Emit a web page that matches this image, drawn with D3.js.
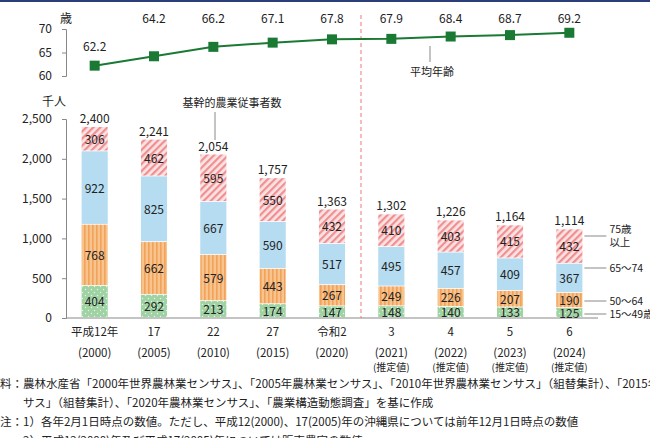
<!DOCTYPE html><html><head><meta charset="utf-8"><script src="https://cdn.jsdelivr.net/npm/d3@7"></script>
<style>body{margin:0;background:#fff}text{font-family:"Noto Sans CJK JP","Noto Sans",sans-serif;fill:#222}</style></head><body><svg id="c" width="650" height="438"></svg><script>
const years=["平成12年|(2000)","17|(2005)","22|(2010)","27|(2015)","令和2|(2020)","3|(2021)|(推定値)","4|(2022)|(推定値)","5|(2023)|(推定値)","6|(2024)|(推定値)"];
const totals=[2400,2241,2054,1757,1363,1302,1226,1164,1114];
const age15_49=[404,292,213,174,147,148,140,133,125];
const age50_64=[768,662,579,443,267,249,226,207,190];
const age65_74=[922,825,667,590,517,495,457,409,367];
const age75=[306,462,595,550,432,410,403,415,432];
const avgAge=[62.2,64.2,66.2,67.1,67.8,67.9,68.4,68.7,69.2];
const seriesNames=["15〜49歳","50〜64","65〜74","75歳|以上"];
const yTicks=[0,500,1000,1500,2000,2500];
const ageTicks=[60,65,70];
const notes=["料：農林水産省「2000年世界農林業センサス」、「2005年農林業センサス」、「2010年世界農林業センサス」（組替集計）、「2015年農林業センサス",
"　　サス」（組替集計）、「2020年農林業センサス」、「農業構造動態調査」を基に作成",
"注：1）各年2月1日時点の数値。ただし、平成12(2000)、17(2005)年の沖縄県については前年12月1日時点の数値",
"　　2）平成12(2000)年及び平成17(2005)年については販売農家の数値"];
const svg=d3.select("#c");
const defs=svg.append("defs");
let p=defs.append("pattern").attr("id","p75").attr("width",5).attr("height",5).attr("patternUnits","userSpaceOnUse").attr("patternTransform","rotate(45)");
p.append("rect").attr("width",5).attr("height",5).attr("fill","#fbe3e3");p.append("rect").attr("width",2.2).attr("height",5).attr("fill","#ef8f92");
p=defs.append("pattern").attr("id","p50").attr("width",4).attr("height",4).attr("patternUnits","userSpaceOnUse");
p.append("rect").attr("width",4).attr("height",4).attr("fill","#f7c48e");p.append("rect").attr("width",1.6).attr("height",4).attr("fill","#f2a25a");
p=defs.append("pattern").attr("id","p15").attr("width",6).attr("height",6).attr("patternUnits","userSpaceOnUse");
p.append("rect").attr("width",6).attr("height",6).attr("fill","#9fd3a4");p.append("circle").attr("cx",1.5).attr("cy",1.5).attr("r",0.7).attr("fill","#e6f5e6");p.append("circle").attr("cx",4.5).attr("cy",4.5).attr("r",0.7).attr("fill","#e6f5e6");
const fills=["url(#p15)","url(#p50)","#b5dcf1","url(#p75)"];
svg.append("rect").attr("width",650).attr("height",2).attr("fill","#2c3e7a");
const x=d3.scaleBand().domain(d3.range(9)).range([65,599]).paddingInner(0.56).paddingOuter(0.28);
const y=d3.scaleLinear().domain([0,2500]).range([318,119]);
const ya=d3.scaleLinear().domain([60,70]).range([76,29]);
const ax=svg.append("g").attr("transform","translate(66,0)").call(d3.axisLeft(y).tickValues(yTicks).tickFormat(d3.format(",")).tickSize(4));
ax.select(".domain").attr("stroke","#888");ax.selectAll("line").attr("stroke","#888");ax.selectAll("text").attr("font-size",12).attr("x",-14);
const aa=svg.append("g").attr("transform","translate(66,0)").call(d3.axisLeft(ya).tickValues(ageTicks).tickSize(4));
aa.select(".domain").attr("stroke","#888");aa.selectAll("line").attr("stroke","#888");aa.selectAll("text").attr("font-size",12).attr("x",-14);
svg.append("line").attr("x1",66).attr("x2",598).attr("y1",318).attr("y2",318).attr("stroke","#888");
svg.append("text").attr("x",60).attr("y",23).attr("font-size",12).text("歳");
svg.append("text").attr("x",42).attr("y",106).attr("font-size",12).text("千人");
svg.append("line").attr("x1",361).attr("x2",361).attr("y1",15).attr("y2",318).attr("stroke","#e77").attr("stroke-dasharray","4,3");
const series=[age15_49,age50_64,age65_74,age75];
const stack=d3.stack().keys([0,1,2,3]).value((d,k)=>series[k][d])(d3.range(9));
stack.forEach((s,k)=>{
 svg.append("g").selectAll("rect").data(s).join("rect").attr("x",(d,i)=>x(i)).attr("width",x.bandwidth()).attr("y",d=>y(d[1])).attr("height",d=>y(d[0])-y(d[1])-0.8).attr("fill",fills[k]);
 svg.append("g").selectAll("text").data(s).join("text").attr("x",(d,i)=>x(i)+x.bandwidth()/2).attr("y",d=>(y(d[0])+y(d[1]))/2+4.5).attr("text-anchor","middle").attr("font-size",12).text((d,i)=>series[k][i]);
});
svg.append("g").selectAll("text").data(totals).join("text").attr("x",(d,i)=>x(i)+x.bandwidth()/2).attr("y",d=>y(d)-4).attr("text-anchor","middle").attr("font-size",12).text(d3.format(","));
const labY=[336,357,371];
years.forEach((l,i)=>{const t=svg.append("text").attr("text-anchor","middle");
 l.split("|").forEach((s,j)=>t.append("tspan").attr("x",x(i)+x.bandwidth()/2).attr("y",labY[j]).attr("font-size",j==2?10:11.5).text(s));});
const cx=i=>x(i)+x.bandwidth()/2;
svg.append("path").datum(avgAge).attr("d",d3.line().x((d,i)=>cx(i)).y(d=>ya(d))).attr("fill","none").attr("stroke","#1a7a34").attr("stroke-width",2);
svg.append("g").selectAll("rect").data(avgAge).join("rect").attr("x",(d,i)=>cx(i)-5).attr("y",d=>ya(d)-5).attr("width",10).attr("height",10).attr("fill","#1a7a34");
svg.append("g").selectAll("text").data(avgAge).join("text").attr("x",(d,i)=>cx(i)).attr("y",(d,i)=>i==0?51:23).attr("text-anchor","middle").attr("font-size",12).text(d=>d.toFixed(1));
svg.append("line").attr("x1",430).attr("x2",430).attr("y1",46).attr("y2",62).attr("stroke","#888");
svg.append("text").attr("x",432).attr("y",76).attr("text-anchor","middle").attr("font-size",11).text("平均年齢");
svg.append("text").attr("x",232).attr("y",107).attr("text-anchor","middle").attr("font-size",11).text("基幹的農業従事者数");
svg.append("line").attr("x1",215).attr("x2",215).attr("y1",112).attr("y2",140).attr("stroke","#888");
const lx=x(8)+x.bandwidth();
seriesNames.forEach((n,k)=>{const yy=[314,301,268,236][k];
 svg.append("line").attr("x1",lx+2).attr("x2",lx+24).attr("y1",yy).attr("y2",yy).attr("stroke","#888");
 const t=svg.append("text").attr("font-size",10.5);
 n.split("|").forEach((s,j)=>t.append("tspan").attr("x",lx+27).attr("y",(k==3?233:yy+4)+j*13).text(s));});
notes.forEach((n,i)=>svg.append("text").attr("x",0).attr("y",388+i*19).attr("font-size",11.5).text(n));
</script></body></html>
